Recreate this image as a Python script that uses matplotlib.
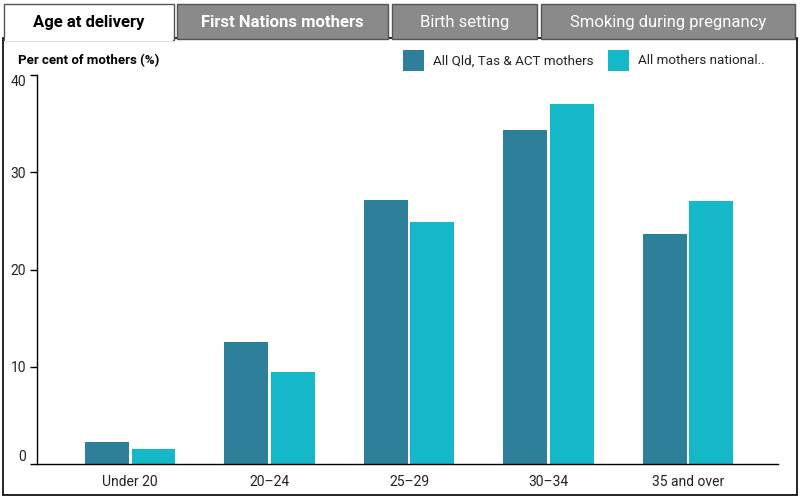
import matplotlib
matplotlib.use("Agg")
import matplotlib.pyplot as plt
from matplotlib.patches import Rectangle
import numpy as np

categories = ["Under 20", "20–24", "25–29", "30–34", "35 and over"]
qld_tas_act = [2.3, 12.5, 27.1, 34.3, 23.7]
national = [1.5, 9.5, 24.9, 37.0, 27.0]
series_names = ["All Qld, Tas & ACT mothers", "All mothers national.."]
tabs = ["Age at delivery", "First Nations mothers", "Birth setting", "Smoking during pregnancy"]
yticks = [0, 10, 20, 30, 40]

DARK = "#2E7F99"
LIGHT = "#14B8C8"
TABGREY = "#8A8A8A"
plt.rcParams['font.family'] = ['Roboto', 'DejaVu Sans']

W, H = 800, 500
fig = plt.figure(figsize=(8, 5), dpi=100)

def fx(px):
    return px / W
def fy(py):
    return 1 - py / H

# Outer frame of content
fig.patches.append(Rectangle((fx(3), fy(495)), fx(797) - fx(3), fy(38) - fy(495),
                             transform=fig.transFigure, fill=False, edgecolor="black", lw=1.2))
# Tabs
tab_bounds = [(4, 174), (177, 388), (392, 537), (541, 795)]
for i, (name, (x0, x1)) in enumerate(zip(tabs, tab_bounds)):
    active = i == 0
    fc = "white" if active else TABGREY
    ec = "#555555"
    fig.patches.append(Rectangle((fx(x0), fy(39 if not active else 40)), fx(x1) - fx(x0),
                                 fy(4) - fy(39 if not active else 40),
                                 transform=fig.transFigure, facecolor=fc, edgecolor=ec, lw=1.0))
    color = "black" if active else "white"
    weight = "bold" if i in (0, 1) else "normal"
    fig.text(fx((x0 + x1) / 2), fy(22.5), name, ha="center", va="center",
             fontsize=12, color=color, fontweight=weight)
# cover the bottom edge of active tab
fig.patches.append(Rectangle((fx(4.6), fy(40.5)), fx(173.4) - fx(4.6), fy(37) - fy(40.5),
                             transform=fig.transFigure, facecolor="white", edgecolor="none"))

ax = fig.add_axes([fx(37), fy(464), fx(778) - fx(37), fy(75) - fy(464)])
x = np.arange(len(categories))
w = 0.315
off = 0.168
ax.bar(x - off, qld_tas_act, width=w, color=DARK, label=series_names[0])
ax.bar(x + off, national, width=w, color=LIGHT, label=series_names[1])
ax.set_xlim(-0.667, 4.645)
ax.set_ylim(0, 40)
ax.set_yticks(yticks)
ax.set_xticks(x)
ax.set_xticklabels(categories, fontsize=10, color="#222222")
ax.tick_params(axis="x", length=0, pad=8)
ax.tick_params(axis="y", length=5, width=1, labelsize=10, pad=3, labelcolor="#222222")
ylabels = ax.get_yticklabels()
ylabels[0].set_va("bottom")
ylabels[-1].set_va("top")
for s in ["top", "right"]:
    ax.spines[s].set_visible(False)
ax.spines["left"].set_linewidth(1)
ax.spines["bottom"].set_linewidth(1)

fig.text(fx(18), fy(61), "Per cent of mothers (%)", ha="left", va="center",
         fontsize=9.5, fontweight="bold")
# legend
for px, col, name in [(403, DARK, series_names[0]), (608, LIGHT, series_names[1])]:
    fig.patches.append(Rectangle((fx(px), fy(71)), fx(21), fy(50) - fy(71),
                                 transform=fig.transFigure, facecolor=col, edgecolor="none"))
    fig.text(fx(px + 30), fy(61), name, ha="left", va="center", fontsize=9.6, color="#222222")

fig.savefig("out.png", dpi=100)
